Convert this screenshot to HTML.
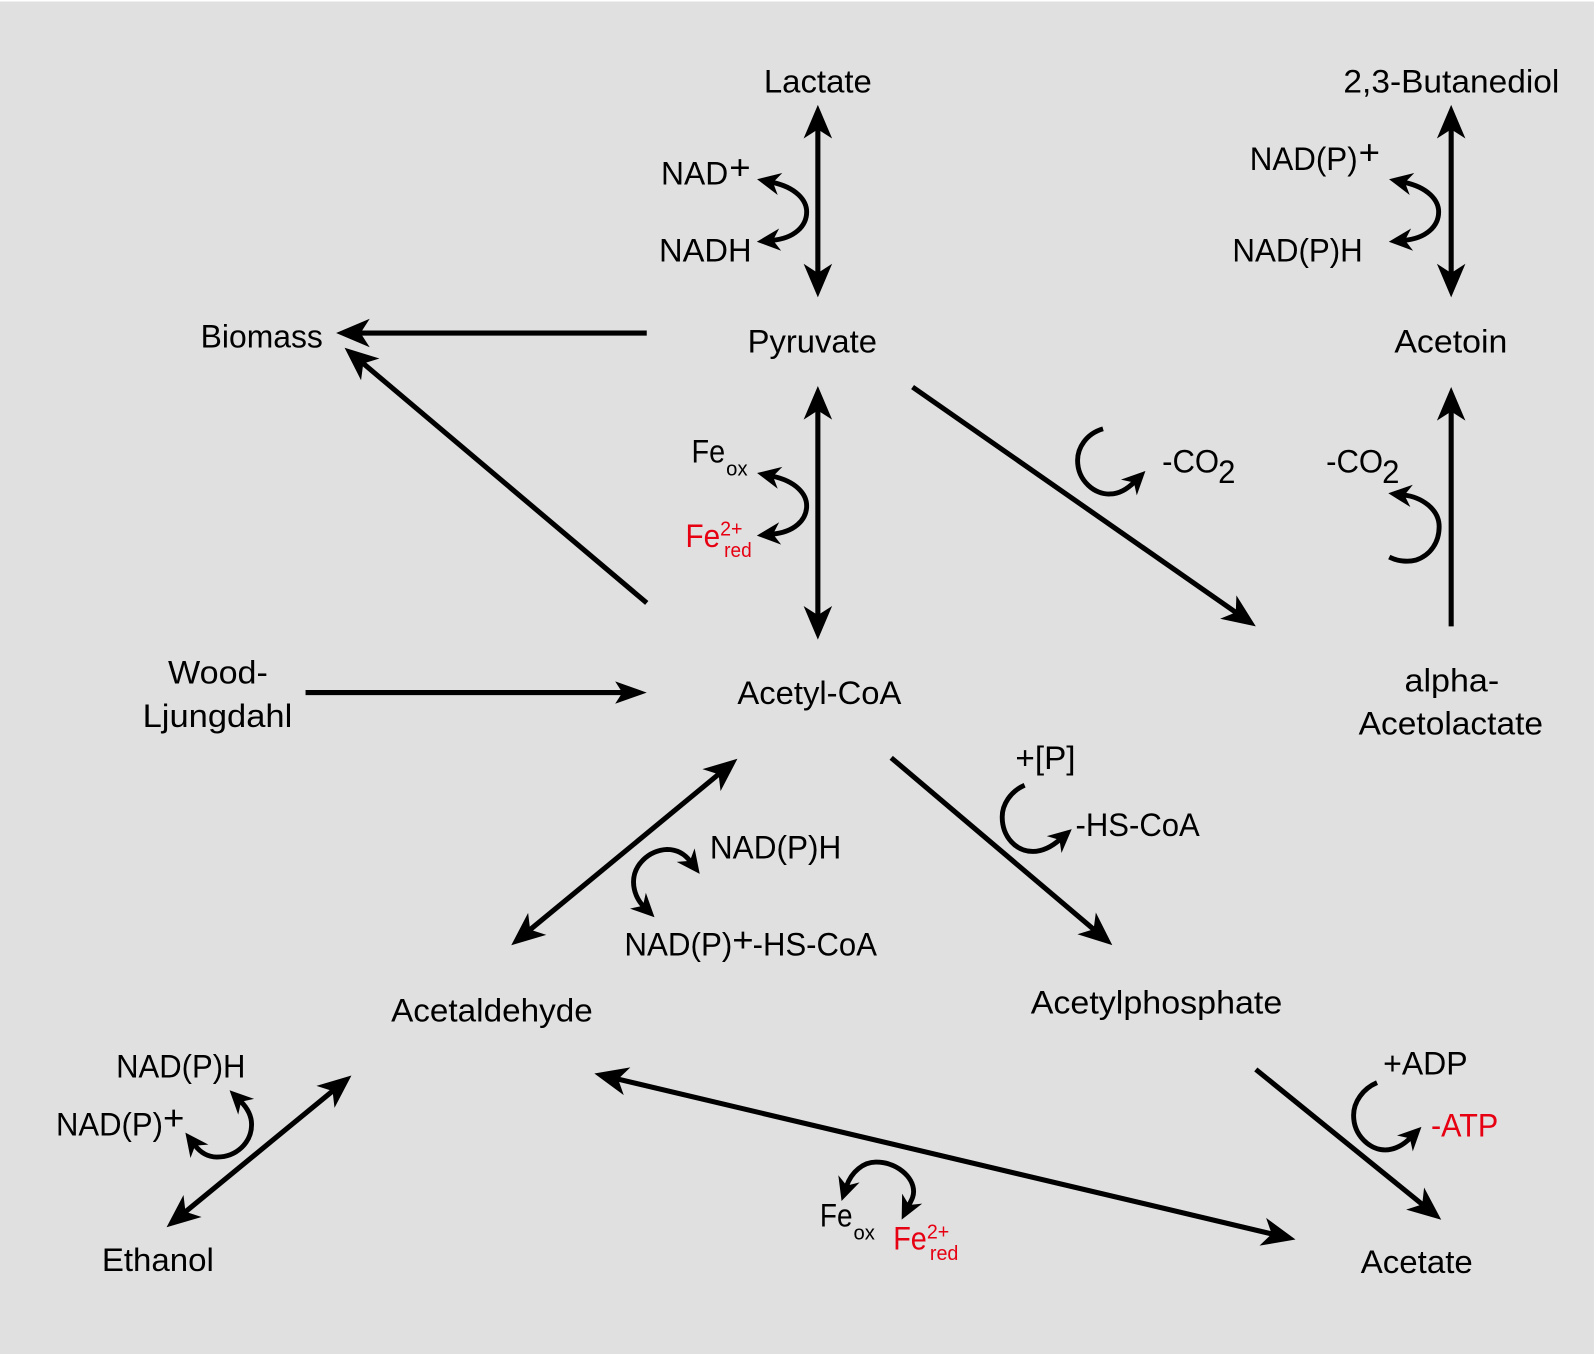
<!DOCTYPE html>
<html><head><meta charset="utf-8"><style>
html,body{margin:0;padding:0;background:#fff}
svg{display:block}
text{font-family:"Liberation Sans",sans-serif;fill:#000;font-size:31.5px}
.r{fill:#e60012}
.s{font-size:19.5px}
.l{stroke:#000;stroke-width:5;fill:none}
.c{stroke:#000;stroke-width:4.8;fill:none;stroke-linecap:butt}
</style></head><body>
<svg xmlns="http://www.w3.org/2000/svg" width="1596" height="1354" viewBox="0 0 1567 1329.4">
<defs>
<marker id="a" markerUnits="userSpaceOnUse" viewBox="-4 -16 40 32" refX="13" refY="0" markerWidth="40" markerHeight="32" orient="auto-start-reverse"><path d="M33,0L0,-14L9,0L0,14Z" fill="#000"/></marker>
<marker id="w" markerUnits="userSpaceOnUse" viewBox="-4 -16 40 32" refX="9" refY="0" markerWidth="40" markerHeight="32" orient="auto-start-reverse"><path d="M31,0L0,-11L7,0L0,11Z" fill="#000"/></marker>
<marker id="b" markerUnits="userSpaceOnUse" viewBox="-4 -14 32 28" refX="8" refY="0" markerWidth="32" markerHeight="28" orient="auto-start-reverse"><path d="M23,0L0,-11L7,0L0,11Z" fill="#000"/></marker>
</defs>
<rect x="0" y="1.5" width="1565" height="1328" fill="#e0e0e0"/>

<!-- straight arrows -->
<path class="l" d="M803,123V272" marker-start="url(#a)" marker-end="url(#a)"/>
<path class="l" d="M1424.8,123V272" marker-start="url(#a)" marker-end="url(#a)"/>
<path class="l" d="M635,327H350" marker-end="url(#a)"/>
<path class="l" d="M635,592L353.6,354.3" marker-end="url(#a)"/>
<path class="l" d="M803,399V608" marker-start="url(#a)" marker-end="url(#a)"/>
<path class="l" d="M896,380L1216.6,603.5" marker-end="url(#a)"/>
<path class="l" d="M1424.8,615V400" marker-end="url(#a)"/>
<path class="l" d="M300,680H613" marker-end="url(#w)"/>
<path class="l" d="M517.4,915.3L708.6,757.7" marker-start="url(#a)" marker-end="url(#a)"/>
<path class="l" d="M875,744L1076.8,915" marker-end="url(#a)"/>
<path class="l" d="M179,1192.3L329.6,1068.7" marker-start="url(#a)" marker-end="url(#a)"/>
<path class="l" d="M603,1058.6L1252.5,1212.4" marker-start="url(#a)" marker-end="url(#a)"/>
<path class="l" d="M1233,1050L1399.5,1185" marker-end="url(#a)"/>

<!-- curved arrows -->
<path class="c" d="M758,179C782,184 792,197 792,208C792,222 780,234 758,236" marker-start="url(#b)" marker-end="url(#b)"/>
<path class="c" transform="translate(620.5,0)" d="M758,179C782,184 792,197 792,208C792,222 780,234 758,236" marker-start="url(#b)" marker-end="url(#b)"/>
<path class="c" transform="translate(0,288.5)" d="M758,179C782,184 792,197 792,208C792,222 780,234 758,236" marker-start="url(#b)" marker-end="url(#b)"/>
<path class="c" d="M1083,421C1066,426 1058,440 1058,452C1058,472 1075,486 1090,485C1098,485 1106,481 1114,473" marker-end="url(#b)"/>
<path class="c" d="M1364,547C1372,551 1382,552 1390,550C1405,545 1413,532 1413,517C1413,500 1396,488 1378,486" marker-end="url(#b)"/>
<path class="c" d="M1006,771C992,777 984,790 984,802C984,822 998,836 1014,836C1024,836 1033,831 1041,824" marker-end="url(#b)"/>
<path class="c" d="M678,846C672,838 664,834 655,834C636,835 622,850 622,866C622,875 626,884 632,890" marker-start="url(#b)" marker-end="url(#b)"/>
<path class="c" d="M236,1081C243,1088 247,1096 247,1104C247,1122 232,1136 213,1136C204,1136 197,1132 191,1124" marker-start="url(#b)" marker-end="url(#b)"/>
<path class="c" d="M831,1165C836,1150 848,1141 860,1141C880,1141 897,1155 897,1170C897,1175 895,1178 892,1184" marker-start="url(#b)" marker-end="url(#b)"/>
<path class="c" d="M1352,1063C1338,1069 1329,1082 1329,1095C1329,1115 1345,1129 1360,1129C1369,1129 1377,1125 1385,1117" marker-end="url(#b)"/>

<!-- labels -->
<g transform="translate(-1,0)">
<text x="751" y="91" textLength="106" lengthAdjust="spacingAndGlyphs">Lactate</text>
<text x="1320" y="91" textLength="212" lengthAdjust="spacingAndGlyphs">2,3-Butanediol</text>
<text x="650" y="181" textLength="66" lengthAdjust="spacingAndGlyphs">NAD</text>
<text x="717" y="176" style="font-size:34px" textLength="21" lengthAdjust="spacingAndGlyphs">+</text>
<text x="648" y="257" textLength="91" lengthAdjust="spacingAndGlyphs">NADH</text>
<text x="735" y="346" textLength="127" lengthAdjust="spacingAndGlyphs">Pyruvate</text>
<text x="1370" y="346" textLength="111" lengthAdjust="spacingAndGlyphs">Acetoin</text>
<text x="198" y="341" textLength="120" lengthAdjust="spacingAndGlyphs">Biomass</text>
<text x="1228" y="167" textLength="106" lengthAdjust="spacingAndGlyphs">NAD(P)</text>
<text x="1335" y="161" style="font-size:34px" textLength="21" lengthAdjust="spacingAndGlyphs">+</text>
<text x="1211" y="257" textLength="128" lengthAdjust="spacingAndGlyphs">NAD(P)H</text>
<text x="680" y="454" textLength="33" lengthAdjust="spacingAndGlyphs">Fe</text>
<text x="714" y="467" class="s" textLength="21" lengthAdjust="spacingAndGlyphs">ox</text>
<text x="674" y="537" class="r" textLength="34" lengthAdjust="spacingAndGlyphs">Fe</text>
<text x="708" y="526" class="r s" textLength="22" lengthAdjust="spacingAndGlyphs">2+</text>
<text x="712" y="547" class="r s" textLength="27" lengthAdjust="spacingAndGlyphs">red</text>
<text x="1142" y="464" textLength="56" lengthAdjust="spacingAndGlyphs">-CO</text>
<text x="1197" y="474" textLength="17" lengthAdjust="spacingAndGlyphs">2</text>
<text x="1303" y="464" textLength="56" lengthAdjust="spacingAndGlyphs">-CO</text>
<text x="1358" y="474" textLength="17" lengthAdjust="spacingAndGlyphs">2</text>
<text x="166" y="671" textLength="98" lengthAdjust="spacingAndGlyphs">Wood-</text>
<text x="141" y="714" textLength="147" lengthAdjust="spacingAndGlyphs">Ljungdahl</text>
<text x="725" y="691" textLength="161" lengthAdjust="spacingAndGlyphs">Acetyl-CoA</text>
<text x="1380" y="679" textLength="93" lengthAdjust="spacingAndGlyphs">alpha-</text>
<text x="1335" y="721" textLength="181" lengthAdjust="spacingAndGlyphs">Acetolactate</text>
<text x="998" y="755" textLength="59" lengthAdjust="spacingAndGlyphs">+[P]</text>
<text x="1057" y="821" textLength="122" lengthAdjust="spacingAndGlyphs">-HS-CoA</text>
<text x="698" y="843" textLength="129" lengthAdjust="spacingAndGlyphs">NAD(P)H</text>
<text x="614" y="938" textLength="106" lengthAdjust="spacingAndGlyphs">NAD(P)</text>
<text x="720" y="934" style="font-size:34px" textLength="21" lengthAdjust="spacingAndGlyphs">+</text>
<text x="740" y="938" textLength="122" lengthAdjust="spacingAndGlyphs">-HS-CoA</text>
<text x="385" y="1003" textLength="198" lengthAdjust="spacingAndGlyphs">Acetaldehyde</text>
<text x="1013" y="995" textLength="247" lengthAdjust="spacingAndGlyphs">Acetylphosphate</text>
<text x="115" y="1058" textLength="127" lengthAdjust="spacingAndGlyphs">NAD(P)H</text>
<text x="56" y="1115" textLength="105" lengthAdjust="spacingAndGlyphs">NAD(P)</text>
<text x="161" y="1109" style="font-size:34px" textLength="21" lengthAdjust="spacingAndGlyphs">+</text>
<text x="101" y="1248" textLength="110" lengthAdjust="spacingAndGlyphs">Ethanol</text>
<text x="1359" y="1055" textLength="83" lengthAdjust="spacingAndGlyphs">+ADP</text>
<text x="1406" y="1116" class="r" textLength="66" lengthAdjust="spacingAndGlyphs">-ATP</text>
<text x="1337" y="1250" textLength="110" lengthAdjust="spacingAndGlyphs">Acetate</text>
<text x="806" y="1204" textLength="32" lengthAdjust="spacingAndGlyphs">Fe</text>
<text x="839" y="1217" class="s" textLength="21" lengthAdjust="spacingAndGlyphs">ox</text>
<text x="878" y="1227" class="r" textLength="33" lengthAdjust="spacingAndGlyphs">Fe</text>
<text x="911" y="1216" class="r s" textLength="22" lengthAdjust="spacingAndGlyphs">2+</text>
<text x="914" y="1237" class="r s" textLength="28" lengthAdjust="spacingAndGlyphs">red</text>
</g>
</svg>
</body></html>
